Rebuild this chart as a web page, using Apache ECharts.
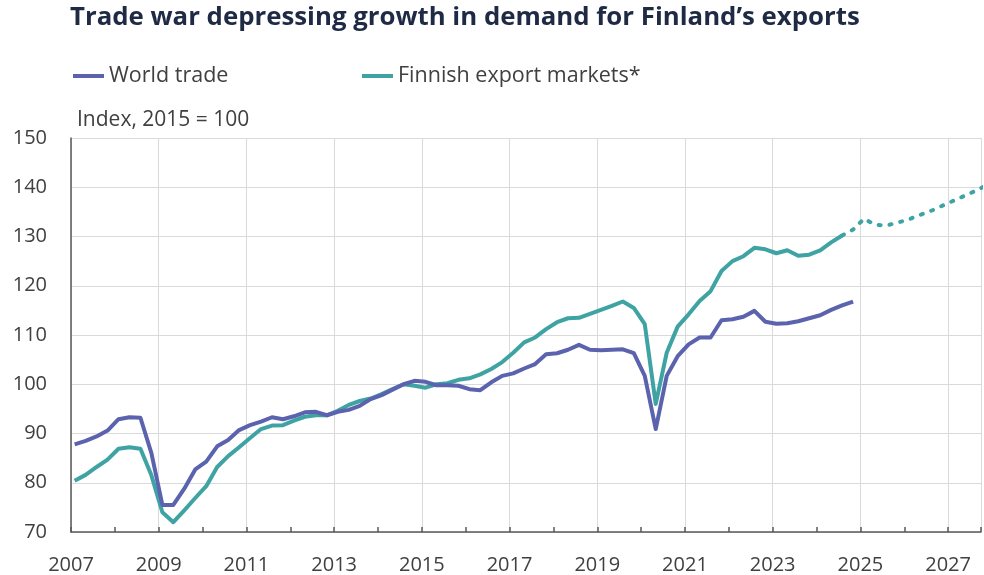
<!DOCTYPE html>
<html lang="en">
<head>
    <meta charset="UTF-8">
    <title>Trade war depressing growth</title>
    <script src="https://cdn.jsdelivr.net/npm/echarts@6/dist/echarts.min.js"></script>
</head>
<style>
    *{
        margin: 0;
        padding: 0;
    }
    html,body{
        width: 100%;
        height: 100%;
        overflow: hidden;
        background: #fff;
    }
    .container{
        width: 984px;
        height: 575px;
    }
</style>
<body>
<div class="container"></div>
<script>
   // quarterly data, first value = 2007 Q1
   let firstYear = 2007;
   let worldTrade = [
       87.8, 88.5, 89.4, 90.6, 92.9, 93.3, 93.2, 86.0,
       75.5, 75.5, 78.8, 82.7, 84.3, 87.4, 88.7, 90.7,
       91.7, 92.4, 93.3, 92.9, 93.5, 94.3, 94.4, 93.7,
       94.4, 94.8, 95.6, 97.0, 97.8, 98.9, 100.0, 100.7,
       100.5, 99.8, 99.8, 99.7, 99.0, 98.8, 100.4, 101.7,
       102.2, 103.2, 104.1, 106.1, 106.3, 107.0, 108.0, 107.0,
       106.9, 107.0, 107.1, 106.3, 101.7, 90.9, 101.7, 105.7,
       108.1, 109.5, 109.5, 113.0, 113.2, 113.7, 114.9, 112.7,
       112.3, 112.4, 112.8, 113.4, 114.0, 115.1, 116.0, 116.8
   ];
   let finnishMarkets = [
       80.4, 81.6, 83.2, 84.7, 86.9, 87.2, 86.9, 81.5,
       74.0, 72.0, 74.4, 76.9, 79.3, 83.2, 85.4, 87.2,
       89.1, 90.9, 91.6, 91.7, 92.6, 93.4, 93.7, 93.7,
       94.6, 95.8, 96.6, 97.1, 98.0, 99.0, 100.0, 99.7,
       99.3, 100.0, 100.2, 100.9, 101.2, 102.0, 103.1, 104.5,
       106.4, 108.5, 109.5, 111.2, 112.6, 113.4, 113.5, 114.3,
       115.1, 115.9, 116.8, 115.5, 112.2, 96.0, 106.4, 111.7,
       114.2, 116.9, 118.9, 123.0, 125.0, 126.0, 127.7, 127.4,
       126.6, 127.2, 126.1, 126.3, 127.2, 128.8, 130.2
   ];
   // forecast starts at the last actual quarter (2024 Q3)
   let forecastStart = 70;
   let finnishForecast = [
       130.2, 131.4, 133.6, 132.4, 132.2, 132.8, 133.4,
       134.3, 135.1, 136.1, 137.1, 138.1, 139.1, 140.2
   ];
   let yTicks = [70, 80, 90, 100, 110, 120, 130, 140, 150];

   // points sit in the middle month of each quarter
   function toPairs(values, offset) {
       return values.map((v, i) => [firstYear + (i + offset) / 4 + 1 / 12, v]);
   }

   let blue = '#5b63ae';
   let teal = '#3fa3a4';
   let textColor = '#404040';
   let font = '"Open Sans", sans-serif';

   let mycharts = echarts.init(document.querySelector('.container'), null, {renderer: 'canvas'});

   let options = {
       backgroundColor: '#fff',
       animation: false,
       title: [{
           text: 'Trade war depressing growth in demand for Finland\u2019s exports',
           left: 70,
           top: 5,
           padding: 0,
           textStyle: {
               fontFamily: font,
               fontWeight: 'bold',
               fontSize: 25.8,
               color: '#1f2b45'
           }
       }, {
           text: 'Index, 2015 = 100',
           left: 77,
           top: 110,
           padding: 0,
           textStyle: {
               fontFamily: font,
               fontWeight: 'normal',
               fontSize: 21,
               color: textColor
           }
       }],
       legend: [{
           data: ['World trade'],
           left: 73,
           top: 65,
           padding: 0,
           icon: 'rect',
           itemWidth: 31,
           itemHeight: 4,
           itemGap: 0,
           textStyle: {fontFamily: font, fontSize: 21.5, color: textColor}
       }, {
           data: ['Finnish export markets*'],
           left: 362,
           top: 65,
           padding: 0,
           icon: 'rect',
           itemWidth: 31,
           itemHeight: 4,
           itemGap: 0,
           textStyle: {fontFamily: font, fontSize: 21.5, color: textColor}
       }],
       grid: {
           left: 71,
           right: 0,
           top: 138,
           bottom: 42,
           containLabel: false
       },
       xAxis: [{
           type: 'value',
           min: firstYear,
           max: 2027.75,
           interval: 1,
           axisLine: {show: true, lineStyle: {color: '#595959', width: 1.5}},
           axisTick: {show: true, inside: true, length: 5, lineStyle: {color: '#595959', width: 1.5}},
           axisLabel: {show: false},
           splitLine: {show: false}
       }, {
           type: 'value',
           position: 'bottom',
           min: firstYear,
           max: 2027.75,
           interval: 2,
           axisLine: {show: false},
           axisTick: {show: false},
           axisLabel: {
               margin: 23,
               fontFamily: font,
               fontSize: 20,
               color: textColor,
               formatter: v => Number.isInteger(v) ? String(v) : ''
           },
           splitLine: {show: true, lineStyle: {color: '#dadada', width: 1}}
       }],
       yAxis: {
           type: 'value',
           min: yTicks[0],
           max: yTicks[yTicks.length - 1],
           interval: 10,
           axisLine: {show: true, lineStyle: {color: '#595959', width: 1.5}},
           axisTick: {show: false},
           axisLabel: {
               margin: 24,
               fontFamily: font,
               fontSize: 20,
               color: textColor
           },
           splitLine: {show: true, lineStyle: {color: '#dadada', width: 1}}
       },
       series: [{
           name: 'World trade',
           type: 'line',
           xAxisIndex: 0,
           data: toPairs(worldTrade, 0),
           symbol: 'none',
           color: blue,
           lineStyle: {width: 4, color: blue, join: 'round'},
           z: 3
       }, {
           name: 'Finnish export markets*',
           type: 'line',
           xAxisIndex: 0,
           data: toPairs(finnishMarkets, 0),
           symbol: 'none',
           color: teal,
           lineStyle: {width: 4, color: teal, join: 'round'},
           z: 2
       }, {
           name: 'Forecast',
           type: 'line',
           xAxisIndex: 0,
           data: toPairs(finnishForecast, forecastStart),
           symbol: 'none',
           color: teal,
           lineStyle: {width: 4, color: teal, type: [2, 9], cap: 'round'},
           z: 2
       }]
   };

   mycharts.setOption(options);
</script>

</body>
</html>
